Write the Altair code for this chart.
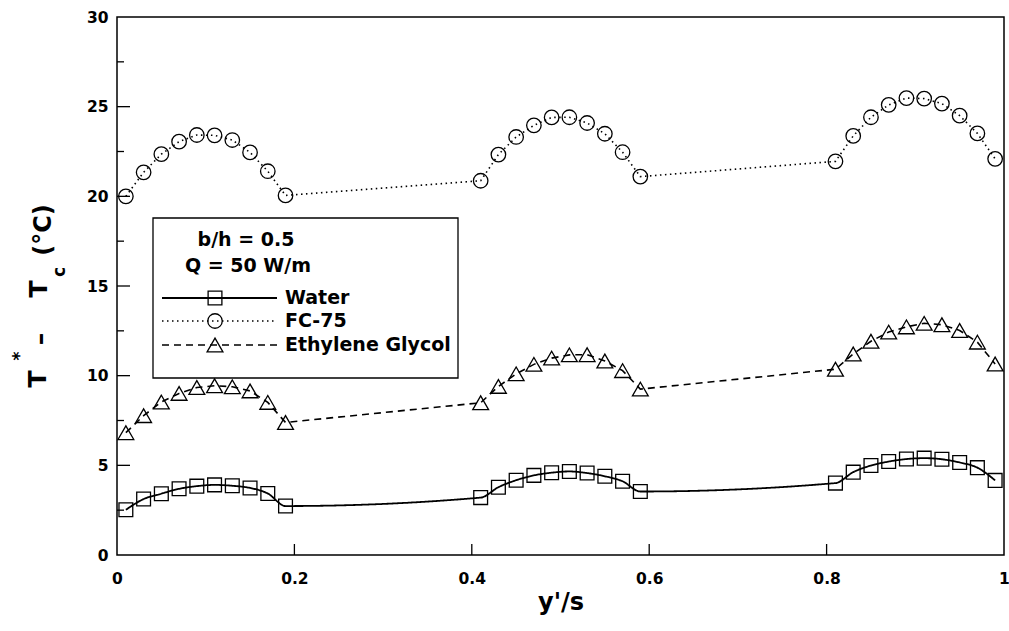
import altair as alt
import pandas as pd

# ---------------- data ----------------
fluids = ["Water", "FC-75", "Ethylene Glycol"]

y_pos = [0.01, 0.03, 0.05, 0.07, 0.09, 0.11, 0.13, 0.15, 0.17, 0.19,
         0.41, 0.43, 0.45, 0.47, 0.49, 0.51, 0.53, 0.55, 0.57, 0.59,
         0.81, 0.83, 0.85, 0.87, 0.89, 0.91, 0.93, 0.95, 0.97, 0.99]

water = [2.52, 3.12, 3.42, 3.69, 3.84, 3.91, 3.86, 3.74, 3.43, 2.73,
         3.20, 3.78, 4.17, 4.44, 4.59, 4.66, 4.57, 4.39, 4.11, 3.54,
         4.01, 4.62, 4.99, 5.21, 5.35, 5.40, 5.34, 5.16, 4.87, 4.16]

fc75 = [20.00, 21.34, 22.35, 23.05, 23.42, 23.40, 23.14, 22.45, 21.40, 20.05,
        20.87, 22.33, 23.31, 23.96, 24.40, 24.41, 24.09, 23.49, 22.46, 21.10,
        21.95, 23.37, 24.41, 25.10, 25.48, 25.45, 25.17, 24.50, 23.51, 22.09]

eg = [6.82, 7.77, 8.53, 9.01, 9.34, 9.44, 9.38, 9.15, 8.51, 7.39,
      8.49, 9.40, 10.10, 10.63, 10.98, 11.16, 11.17, 10.82, 10.28, 9.25,
      10.36, 11.21, 11.92, 12.43, 12.72, 12.92, 12.84, 12.52, 11.87, 10.65]

legend_header = ["b/h = 0.5", "Q = 50 W/m"]
x_ticks = [0, 0.2, 0.4, 0.6, 0.8, 1]
x_inner_ticks = [0.2, 0.4, 0.6, 0.8]
y_ticks = [0, 5, 10, 15, 20, 25, 30]
y_minor = [2.5, 7.5, 12.5, 17.5, 22.5, 27.5]
y_title_parts = ["T", "*", "\u2013", "T", "c", "(\u00b0C)"]
x_title = "y'/s"

# ---------------- layout / style ----------------
W, H = 887, 538
FONT = "DejaVu Sans"
shapes = {"Water": "square", "FC-75": "circle", "Ethylene Glycol": "triangle-up"}
sizes = {"Water": 190, "FC-75": 210, "Ethylene Glycol": 250}
dashes = {"Water": [1, 0], "FC-75": [1.5, 3.5], "Ethylene Glycol": [7, 5]}
widths = {"Water": 1.8, "FC-75": 1.6, "Ethylene Glycol": 1.6}
interp = {"Water": "monotone", "FC-75": "linear", "Ethylene Glycol": "linear"}

rows = []
for name, vals in zip(fluids, [water, fc75, eg]):
    for p, v in zip(y_pos, vals):
        rows.append({"pos": p, "temp": v, "fluid": name})
df = pd.DataFrame(rows)

xs = alt.Scale(domain=[0, 1], nice=False, zero=False)
ys = alt.Scale(domain=[0, 30], nice=False)

x_axis = alt.Axis(values=x_ticks, format="~g", ticks=False, domain=False, grid=False,
                  labelFont=FONT, labelFontWeight="bold", labelFontSize=15.5,
                  labelColor="black", labelPadding=16, labelFlush=False,
                  title=x_title, titleFont=FONT, titleFontSize=24,
                  titleFontWeight="bold", titleColor="black", titlePadding=4)
y_axis = alt.Axis(values=y_ticks, ticks=False, domain=False, grid=False,
                  labelFont=FONT, labelFontWeight="bold", labelFontSize=15.5,
                  labelColor="black", labelPadding=9, title="")


def X(field):
    return alt.X(field, scale=xs, axis=x_axis)


def Y(field):
    return alt.Y(field, scale=ys, axis=y_axis)


layers = []
for name in fluids:
    sub = alt.Chart(df).transform_filter(alt.datum.fluid == name)
    layers.append(sub.mark_line(color="black", strokeWidth=widths[name],
                                strokeDash=dashes[name], interpolate=interp[name])
                  .encode(x=X("pos:Q"), y=Y("temp:Q")))
    layers.append(sub.mark_point(filled=False, color="black", strokeWidth=1.3,
                                 shape=shapes[name], size=sizes[name], opacity=1)
                  .encode(x=X("pos:Q"), y=Y("temp:Q")))

# inward ticks
ymaj = alt.Chart(pd.DataFrame({"temp": y_ticks[1:-1]})).mark_rule(color="black", strokeWidth=1.3).encode(
    y=Y("temp:Q"), x=alt.value(0), x2=alt.value(13))
ymin = alt.Chart(pd.DataFrame({"temp": y_minor})).mark_rule(color="black", strokeWidth=1.3).encode(
    y=Y("temp:Q"), x=alt.value(0), x2=alt.value(7))
xmaj = alt.Chart(pd.DataFrame({"pos": x_inner_ticks})).mark_rule(color="black", strokeWidth=1.3).encode(
    x=X("pos:Q"), y=alt.value(H), y2=alt.value(H - 11))
layers += [ymaj, ymin, xmaj]

# y-axis title built from pieces (superscript / subscript)
one = pd.DataFrame({"k": [0]})
yt_pos = [(-79, 362, 25), (-97, 339, 17), (-77, 322, 25), (-78, 272, 25), (-57, 255, 17), (-73, 213, 24)]
for txt, (px, py, fs) in zip(y_title_parts, yt_pos):
    layers.append(alt.Chart(one).mark_text(text=txt, angle=270, font=FONT, fontWeight="bold",
                                           fontSize=fs, color="black", align="center",
                                           baseline="middle")
                  .encode(x=alt.value(px), y=alt.value(py)))

# legend box
layers.append(alt.Chart(one).mark_rect(fill="white", stroke="black", strokeWidth=1.3).encode(
    x=alt.value(36), x2=alt.value(341), y=alt.value(201), y2=alt.value(361)))
for txt, (cx, cy) in zip(legend_header, [(129, 223), (131, 249)]):
    layers.append(alt.Chart(one).mark_text(text=txt, font=FONT, fontWeight="bold", fontSize=19,
                                           color="black", align="center", baseline="middle")
                  .encode(x=alt.value(cx), y=alt.value(cy)))
for name, ly in zip(fluids, [281, 304, 328]):
    layers.append(alt.Chart(one).mark_rule(color="black", strokeWidth=widths[name],
                                           strokeDash=dashes[name])
                  .encode(x=alt.value(45), x2=alt.value(160), y=alt.value(ly)))
    layers.append(alt.Chart(one).mark_point(filled=False, color="black", strokeWidth=1.3,
                                            shape=shapes[name], size=sizes[name], opacity=1)
                  .encode(x=alt.value(98), y=alt.value(ly)))
    layers.append(alt.Chart(one).mark_text(text=name, font=FONT, fontWeight="bold", fontSize=19,
                                           color="black", align="left", baseline="middle")
                  .encode(x=alt.value(168), y=alt.value(ly)))

chart = alt.layer(*layers).properties(
    width=W, height=H,
    padding={"left": 117, "top": 17, "right": 5, "bottom": 76},
    autosize="none", background="white"
).configure_view(stroke="black", strokeWidth=1.5)

chart.save("out.html", embed_options={"renderer": "svg", "actions": False})
